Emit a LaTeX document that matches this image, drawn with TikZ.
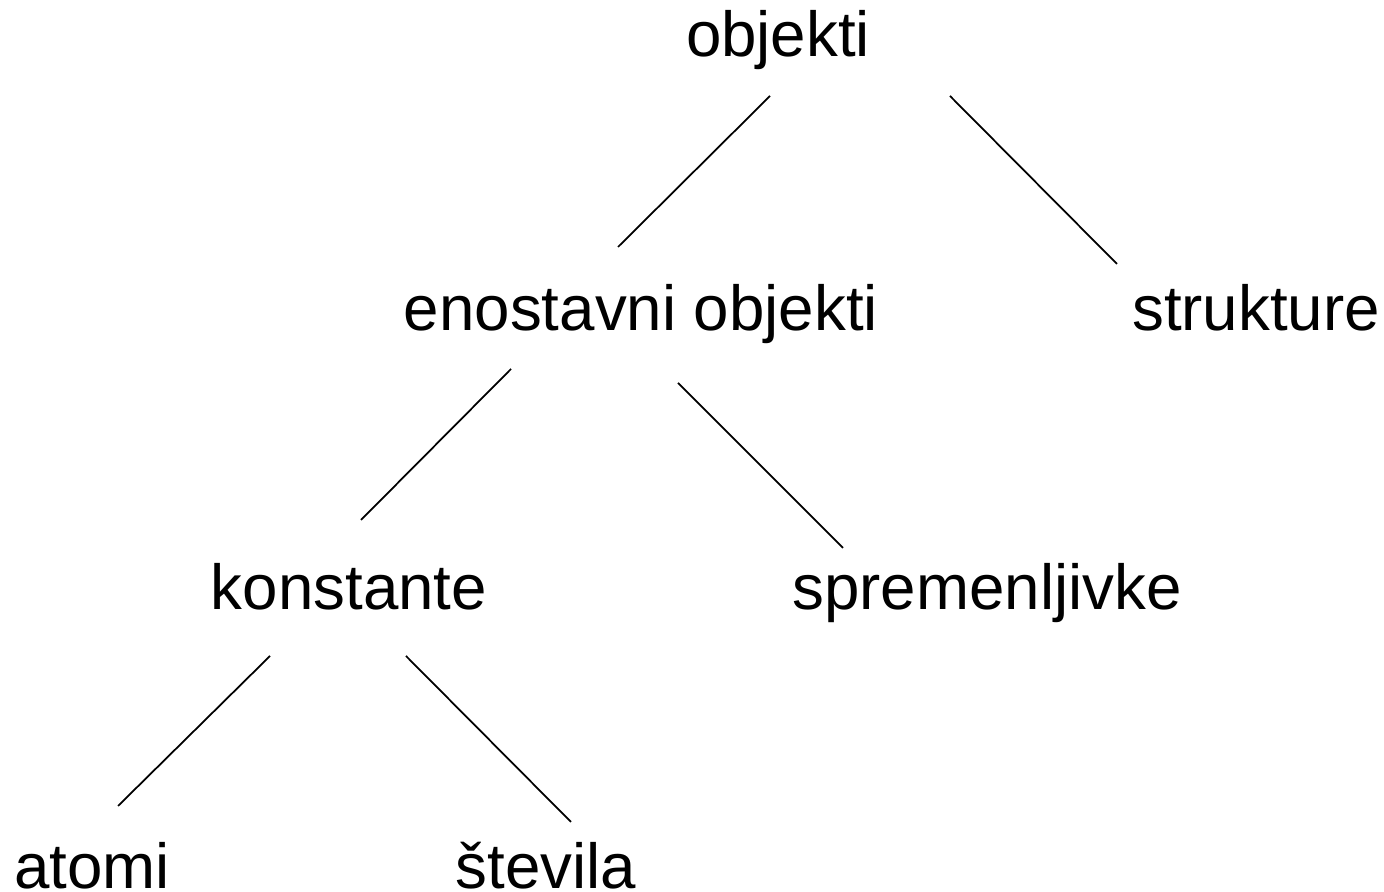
\documentclass[tikz,border=0pt]{standalone}
\usepackage{fontspec}
\setmainfont{Liberation Sans}
\begin{document}
\begin{tikzpicture}[x=0.01cm,y=-0.01cm,
  term/.style={anchor=base,inner sep=0pt,font=\fontsize{18.1}{21}\selectfont},
  edge/.style={line width=0.5pt}]
\useasboundingbox (0,0) rectangle (1384,892);
% tree nodes
\node[term] (obj)  at (778,57)  {objekti};
\node[term] (eno)  at (641,331) {enostavni objekti};
\node[term] (str)  at (1256,331) {strukture};
\node[term] (kon)  at (349,610) {konstante};
\node[term] (spr)  at (987,610) {spremenljivke};
\node[term] (ato)  at (92,889)  {atomi};
\node[term] (ste)  at (546,889) {števila};
% branch end points
\coordinate (obj-l) at (770,96);   \coordinate (eno-t) at (618,247);
\coordinate (obj-r) at (950,96);   \coordinate (str-t) at (1117,264);
\coordinate (eno-l) at (511,369);  \coordinate (kon-t) at (361,520);
\coordinate (eno-r) at (678,383);  \coordinate (spr-t) at (843,548);
\coordinate (kon-l) at (270,656);  \coordinate (ato-t) at (118,806);
\coordinate (kon-r) at (406,656);  \coordinate (ste-t) at (571,822);
% branches
\draw[edge] (obj-l) -- (eno-t);
\draw[edge] (obj-r) -- (str-t);
\draw[edge] (eno-l) -- (kon-t);
\draw[edge] (eno-r) -- (spr-t);
\draw[edge] (kon-l) -- (ato-t);
\draw[edge] (kon-r) -- (ste-t);
\end{tikzpicture}
\end{document}
